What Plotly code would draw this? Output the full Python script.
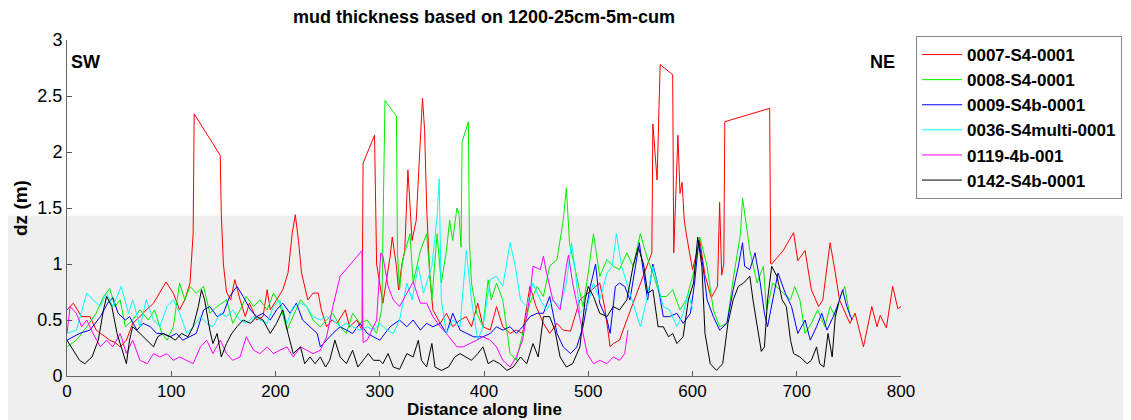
import plotly.graph_objects as go

# ---------------- data ----------------
red_x = [0, 6, 14, 22, 28, 35, 41, 46, 51, 57, 63, 70, 76, 83, 89, 95, 102, 108, 113, 118, 121, 122, 147, 148, 150, 153,
         157, 161, 166, 171, 175, 182, 188, 192, 195, 201, 207, 212, 216, 219, 222, 225, 228, 231, 236, 241, 244, 249,
         254, 259, 267, 271, 278, 283, 284, 295, 297, 303, 310, 312, 316, 318, 321, 324, 327, 331, 335, 341, 343, 345,
         348, 351, 358, 364, 370, 377, 383, 388, 394, 399, 406, 412, 418, 425, 431, 437, 444, 450, 457, 463, 470, 476,
         483, 492, 501, 511, 516, 521, 524, 530, 537, 545, 551, 556, 561, 562, 563, 566, 569, 581, 582, 586, 588, 590,
         592, 594, 600, 607, 612, 618, 624, 626, 628, 630, 631, 674, 675, 676, 687, 697, 701, 708, 714, 721, 725, 732,
         737, 741, 751, 756, 764, 772, 777, 780, 786, 792, 797, 800]
red_y = [0.59, 0.65, 0.53, 0.53, 0.41, 0.36, 0.32, 0.30, 0.26, 0.32, 0.47, 0.53, 0.59, 0.65, 0.74, 0.84, 0.74, 0.59, 0.68,
         0.83, 1.27, 2.34, 1.97, 1.45, 1.00, 0.75, 0.68, 0.86, 0.68, 0.53, 0.65, 0.50, 0.53, 0.77, 0.59, 0.68, 0.77,
         0.92, 1.27, 1.44, 1.21, 0.92, 0.80, 0.68, 0.74, 0.74, 0.59, 0.44, 0.50, 0.47, 0.59, 0.44, 0.50, 0.41, 1.90,
         2.15, 1.00, 0.65, 1.07, 1.24, 0.98, 0.77, 0.98, 1.12, 1.84, 1.21, 1.39, 2.48, 2.20, 1.50, 0.90, 0.59, 0.47,
         0.56, 0.44, 0.50, 0.53, 0.44, 0.65, 0.44, 0.41, 0.62, 0.44, 0.38, 0.41, 0.38, 0.80, 0.62, 0.47, 0.38, 0.47,
         0.41, 0.40, 0.68, 0.75, 0.83, 0.60, 0.26, 0.29, 0.32, 0.50, 0.70, 0.85, 0.98, 1.10, 2.25, 2.14, 1.75, 2.78,
         2.69, 1.10, 2.15, 1.63, 1.73, 1.40, 1.27, 0.95, 1.21, 0.90, 0.70, 0.80, 1.55, 0.90, 1.00, 2.27, 2.39, 1.00,
         1.00, 1.12, 1.28, 1.03, 1.12, 0.77, 0.62, 0.68, 1.19, 0.92, 0.68, 0.47, 0.56, 0.26, 0.62, 0.44, 0.54, 0.43,
         0.80, 0.60, 0.62]

green_x = [0, 9, 19, 28, 35, 41, 46, 51, 56, 63, 70, 78, 84, 91, 96, 102, 108, 113, 118, 124, 131, 137, 144, 153, 159,
           166, 172, 179, 185, 192, 198, 204, 211, 217, 224, 230, 236, 243, 249, 255, 262, 268, 274, 281, 288, 297,
           302, 303, 305, 316, 317, 319, 322, 329, 332, 339, 345, 350, 355, 359, 364, 367, 370, 374, 376, 378, 379,
           385, 386, 388, 393, 399, 404, 407, 412, 418, 425, 431, 437, 444, 451, 457, 463, 470, 476, 479, 482, 489,
           495, 500, 505, 511, 518, 524, 530, 537, 543, 550, 556, 562, 569, 575, 581, 588, 594, 601, 607, 614, 620,
           626, 633, 639, 646, 648, 655, 662, 668, 671, 677, 687, 694, 698, 703, 708, 714, 720, 727, 732, 737, 742,
           746, 751]
green_y = [0.26, 0.32, 0.44, 0.56, 0.71, 0.78, 0.62, 0.68, 0.44, 0.50, 0.59, 0.50, 0.59, 0.38, 0.32, 0.44, 0.83, 0.68,
           0.80, 0.74, 0.80, 0.56, 0.62, 0.68, 0.47, 0.59, 0.71, 0.62, 0.68, 0.59, 0.74, 0.65, 0.41, 0.53, 0.68, 0.62,
           0.50, 0.44, 0.50, 0.56, 0.44, 0.38, 0.56, 0.47, 0.50, 0.38, 0.60, 1.42, 2.46, 2.32, 1.10, 0.77, 1.04, 1.27,
           0.83, 1.12, 1.27, 0.68, 1.27, 0.83, 1.12, 1.39, 1.21, 1.50, 1.45, 1.15, 2.09, 2.27, 1.20, 0.83, 0.56, 0.44,
           0.86, 0.68, 0.83, 0.68, 0.20, 0.14, 0.38, 0.65, 0.80, 0.71, 0.98, 1.04, 1.39, 1.68, 1.19, 0.89, 0.62, 0.92,
           1.27, 0.89, 1.04, 0.98, 0.95, 1.10, 0.98, 1.27, 1.07, 0.92, 0.71, 0.71, 0.77, 0.59, 0.68, 0.92, 1.24, 0.98,
           0.59, 0.44, 0.47, 0.86, 1.27, 1.59, 1.12, 0.83, 0.98, 0.59, 0.83, 0.74, 0.68, 0.80, 0.68, 0.38, 0.47, 0.59,
           0.44, 0.62, 0.53, 0.71, 0.80, 0.53]

blue_x = [0, 12, 22, 32, 39, 44, 49, 56, 60, 67, 73, 80, 86, 92, 99, 105, 111, 118, 124, 131, 137, 144, 150, 156, 163,
          169, 176, 182, 188, 195, 201, 207, 214, 220, 226, 233, 240, 243, 249, 255, 262, 268, 274, 281, 288, 294, 300,
          310, 319, 326, 332, 339, 345, 351, 358, 364, 370, 377, 383, 390, 399, 406, 412, 418, 425, 431, 437, 444, 451,
          457, 463, 470, 476, 483, 489, 495, 502, 507, 511, 518, 521, 526, 530, 535, 540, 545, 549, 553, 557, 562, 567,
          572, 578, 585, 591, 598, 602, 606, 610, 614, 620, 626, 633, 639, 644, 648, 650, 655, 660, 665, 669, 672, 677,
          682, 689, 695, 701, 708, 713, 719, 724, 729, 735, 740, 744, 748, 753]
blue_y = [0.32, 0.38, 0.41, 0.53, 0.65, 0.70, 0.56, 0.50, 0.53, 0.41, 0.47, 0.44, 0.38, 0.38, 0.35, 0.38, 0.32, 0.35,
          0.38, 0.59, 0.62, 0.53, 0.56, 0.71, 0.80, 0.71, 0.59, 0.53, 0.56, 0.50, 0.59, 0.65, 0.56, 0.65, 0.50, 0.44,
          0.38, 0.26, 0.32, 0.38, 0.44, 0.41, 0.38, 0.47, 0.38, 0.35, 0.32, 0.44, 0.50, 0.44, 0.50, 0.41, 0.47, 0.44,
          0.47, 0.38, 0.56, 0.41, 0.38, 0.35, 0.35, 0.38, 0.44, 0.41, 0.44, 0.38, 0.44, 0.53, 0.56, 0.56, 0.71, 0.38,
          0.26, 0.20, 0.26, 0.44, 0.80, 1.00, 0.65, 0.50, 0.38, 0.80, 0.83, 0.80, 0.68, 0.98, 1.19, 0.92, 0.68, 1.00,
          0.80, 0.53, 0.53, 0.56, 0.47, 0.56, 0.83, 1.21, 0.98, 0.68, 0.53, 0.41, 0.47, 0.77, 0.98, 1.19, 0.98, 0.95,
          1.10, 0.83, 0.56, 0.44, 0.68, 0.92, 0.74, 0.62, 0.38, 0.50, 0.32, 0.44, 0.56, 0.41, 0.53, 0.65, 0.77, 0.62,
          0.50]

cyan_x = [0, 9, 19, 25, 32, 38, 44, 52, 59, 63, 70, 76, 83, 89, 96, 102, 108, 115, 121, 128, 134, 140, 147, 153, 159,
          166, 172, 179, 185, 192, 198, 204, 211, 217, 224, 230, 236, 243, 249, 255, 262, 268, 274, 281, 288, 294, 300,
          307, 313, 319, 326, 331, 337, 342, 350, 355, 357, 359, 364, 370, 377, 383, 388, 394, 399, 406, 412, 418, 425,
          430, 435, 441, 447, 454, 460, 466, 473, 479, 484, 487, 492, 499, 505, 511, 518, 523, 527, 532, 538, 545, 550,
          556, 562, 567, 572, 578, 585, 591, 596, 600]
cyan_y = [0.38, 0.41, 0.74, 0.68, 0.62, 0.74, 0.62, 0.80, 0.56, 0.68, 0.44, 0.68, 0.50, 0.44, 0.62, 0.68, 0.56, 0.38,
          0.44, 0.53, 0.47, 0.44, 0.56, 0.53, 0.59, 0.50, 0.47, 0.53, 0.50, 0.47, 0.62, 0.68, 0.47, 0.62, 0.65, 0.62,
          0.53, 0.50, 0.53, 0.50, 0.44, 0.47, 0.44, 0.41, 0.44, 0.41, 0.47, 0.41, 0.38, 0.50, 0.83, 0.68, 0.98, 0.74,
          0.98, 1.42, 1.76, 0.68, 0.38, 0.50, 0.44, 1.12, 0.68, 0.32, 0.44, 0.86, 0.89, 0.80, 1.19, 0.98, 0.68, 0.62,
          0.83, 0.68, 0.59, 0.68, 0.62, 0.83, 1.19, 0.98, 0.56, 0.62, 0.83, 0.68, 0.92, 0.98, 1.27, 0.98, 0.80, 0.59,
          0.44, 0.68, 0.98, 0.80, 0.62, 0.59, 0.44, 0.56, 0.74, 0.60]

magenta_x = [0, 3, 9, 14, 19, 25, 32, 38, 44, 51, 57, 63, 70, 77, 83, 89, 96, 102, 108, 115, 121, 128, 134, 140, 147,
             153, 159, 166, 172, 179, 185, 192, 198, 204, 211, 217, 224, 230, 236, 243, 249, 255, 262, 283, 284, 288,
             291, 297, 301, 303, 308, 313, 319, 326, 332, 339, 345, 351, 358, 364, 374, 380, 387, 393, 399, 406, 412,
             418, 425, 431, 437, 444, 447, 454, 457, 460, 466, 473, 479, 481, 485, 492, 499, 505, 511, 518, 524, 530,
             535, 538]
magenta_y = [0.38, 0.62, 0.56, 0.44, 0.50, 0.38, 0.26, 0.32, 0.26, 0.38, 0.20, 0.32, 0.14, 0.11, 0.20, 0.17, 0.20, 0.14,
             0.17, 0.14, 0.11, 0.26, 0.32, 0.20, 0.32, 0.20, 0.14, 0.17, 0.35, 0.23, 0.20, 0.26, 0.20, 0.23, 0.26, 0.17,
             0.26, 0.23, 0.20, 0.23, 0.35, 0.62, 0.89, 1.12, 0.30, 0.32, 0.38, 0.50, 1.10, 1.07, 0.80, 0.68, 0.62, 0.74,
             0.84, 0.65, 0.65, 0.53, 0.44, 0.38, 0.26, 0.26, 0.29, 0.32, 0.35, 0.32, 0.26, 0.14, 0.08, 0.17, 0.32, 0.71,
             0.98, 0.95, 1.07, 0.92, 0.68, 0.59, 0.98, 1.08, 0.83, 0.53, 0.20, 0.11, 0.14, 0.11, 0.17, 0.14, 0.20, 0.41]

black_x = [0, 6, 12, 17, 24, 30, 35, 38, 43, 48, 52, 57, 60, 63, 70, 77, 83, 87, 92, 99, 104, 110, 116, 121, 126, 129,
           132, 137, 140, 144, 148, 153, 158, 163, 169, 176, 182, 188, 195, 201, 207, 212, 217, 224, 228, 233, 238, 243,
           248, 252, 257, 262, 268, 274, 279, 284, 289, 294, 300, 303, 308, 313, 319, 326, 332, 337, 340, 345, 350, 353,
           359, 366, 372, 377, 383, 388, 394, 399, 404, 409, 415, 422, 428, 435, 441, 447, 452, 457, 463, 468, 473, 479,
           485, 492, 497, 500, 505, 511, 518, 524, 530, 537, 543, 548, 553, 557, 562, 567, 572, 577, 581, 585, 591, 596,
           601, 605, 609, 612, 617, 623, 629, 634, 639, 644, 649, 655, 658, 663, 666, 669, 672, 676, 681, 686, 690, 694,
           697, 703, 710, 714, 719, 722, 726, 730, 734, 737, 740]
black_y = [0.32, 0.23, 0.14, 0.11, 0.17, 0.32, 0.59, 0.71, 0.62, 0.38, 0.26, 0.11, 0.32, 0.44, 0.38, 0.32, 0.26, 0.35,
           0.38, 0.35, 0.32, 0.38, 0.35, 0.44, 0.62, 0.77, 0.68, 0.41, 0.29, 0.38, 0.17, 0.29, 0.38, 0.44, 0.50, 0.47,
           0.53, 0.50, 0.38, 0.47, 0.59, 0.38, 0.20, 0.26, 0.11, 0.17, 0.11, 0.17, 0.08, 0.14, 0.32, 0.17, 0.11, 0.23,
           0.08, 0.14, 0.20, 0.14, 0.14, 0.11, 0.20, 0.08, 0.06, 0.20, 0.17, 0.32, 0.14, 0.08, 0.29, 0.08, 0.05, 0.08,
           0.17, 0.20, 0.17, 0.14, 0.20, 0.26, 0.11, 0.14, 0.11, 0.05, 0.08, 0.17, 0.11, 0.29, 0.17, 0.53, 0.53, 0.41,
           0.17, 0.08, 0.11, 0.26, 0.68, 0.80, 0.71, 0.56, 0.53, 0.62, 0.59, 0.68, 0.98, 1.15, 1.00, 0.74, 0.77, 0.44,
           0.44, 0.35, 0.38, 0.29, 0.35, 0.68, 0.83, 1.24, 0.98, 0.38, 0.11, 0.05, 0.11, 0.47, 0.68, 0.80, 0.83, 0.89,
           0.68, 0.38, 0.22, 0.26, 0.68, 0.98, 0.89, 0.68, 0.62, 0.32, 0.20, 0.17, 0.11, 0.14, 0.26, 0.11, 0.08, 0.38,
           0.17, 0.53, 0.65]

series_names = ["0007-S4-0001", "0008-S4-0001", "0009-S4b-0001", "0036-S4multi-0001", "0119-4b-001", "0142-S4b-0001"]
series_colors = ["#FF0000", "#00EE00", "#0000FF", "#00FFFF", "#FF00FF", "#000000"]

x_ticks = [0, 100, 200, 300, 400, 500, 600, 700, 800]
y_ticks = [0, 0.5, 1, 1.5, 2, 2.5, 3]
y_tick_text = ["0", "0.5", "1", "1.5", "2", "2.5", "3"]
shade_top = 1.43  # top of grey shaded band (data units)

title_text = "mud thickness based on 1200-25cm-5m-cum"
x_title = "Distance along line"
y_title = "dz (m)"

# ---------------- figure ----------------
FONT = "Liberation Sans, Arial, Helvetica, sans-serif"
W, H = 1131, 420
OFF = 8  # page body margin offset (figure origin sits at screen pixel 8,8)
# target plot area in screen pixels: x 67..901, y 40..376
ML = 67 - OFF
MT = 40 - OFF
MR = W - (901 - OFF)
MB = H - (376 - OFF)
PW, PH = W - ML - MR, H - MT - MB


def sx(px):  # screen pixel x -> paper x
    return (px - OFF - ML) / PW


def sy(py):  # screen pixel y -> paper y
    return (H - MB - (py - OFF)) / PH


fig = go.Figure()
all_x = [red_x, green_x, blue_x, cyan_x, magenta_x, black_x]
all_y = [red_y, green_y, blue_y, cyan_y, magenta_y, black_y]
for xs, ys, name, col in zip(all_x, all_y, series_names, series_colors):
    fig.add_trace(go.Scatter(x=xs, y=ys, mode="lines", name=name,
                             line=dict(color=col, width=1), hoverinfo="skip"))

fig.add_shape(type="rect", xref="paper", yref="paper",
              x0=sx(0), x1=sx(W + 20),
              y0=sy(H + 20), y1=shade_top / 3.0,
              fillcolor="#EFEFEF", line=dict(width=0), layer="below")

fig.update_layout(
    width=W, height=H,
    margin=dict(l=ML, r=MR, t=MT, b=MB, pad=0),
    paper_bgcolor="white", plot_bgcolor="rgba(0,0,0,0)",
    font=dict(family=FONT, size=18, color="black"),
    title=dict(text=title_text, x=sx(484), xref="paper", xanchor="center",
               y=1 - 2 / H, yref="container", yanchor="top",
               font=dict(family=FONT, size=18, color="black", weight="bold")),
    showlegend=True,
    legend=dict(x=sx(916), y=sy(36), xanchor="left", yanchor="top",
                bgcolor="white", bordercolor="#888888", borderwidth=1,
                font=dict(family=FONT, size=17, color="black", weight="bold"),
                tracegroupgap=0, itemwidth=40),
    hovermode=False,
)

fig.update_xaxes(range=[0, 800], tickvals=x_ticks, ticks="inside", ticklen=5, tickcolor="#555",
                 showline=True, linecolor="#666", linewidth=1, showgrid=False, zeroline=False,
                 tickfont=dict(family=FONT, size=17, color="black"))
fig.update_yaxes(range=[0, 3], tickvals=y_ticks, ticktext=y_tick_text, ticks="inside", ticklen=5,
                 tickcolor="#555", showline=True, linecolor="#666", linewidth=1, showgrid=False,
                 zeroline=False, tickfont=dict(family=FONT, size=18, color="black"))

fig.add_annotation(text=x_title, xref="paper", yref="paper", x=sx(484), y=sy(409.5),
                   xanchor="center", yanchor="middle", showarrow=False,
                   font=dict(family=FONT, size=17, color="black", weight="bold"))
fig.add_annotation(text=y_title, xref="paper", yref="paper", x=sx(20), y=sy(208),
                   xanchor="center", yanchor="middle", showarrow=False, textangle=-90,
                   font=dict(family=FONT, size=19, color="black", weight="bold"))
fig.add_annotation(text="SW", xref="paper", yref="paper", x=sx(69), y=sy(62),
                   xanchor="left", yanchor="middle", showarrow=False,
                   font=dict(family=FONT, size=18, color="black", weight="bold"))
fig.add_annotation(text="NE", xref="paper", yref="paper", x=sx(897), y=sy(62),
                   xanchor="right", yanchor="middle", showarrow=False,
                   font=dict(family=FONT, size=18, color="black", weight="bold"))

fig.write_html("out.html")
